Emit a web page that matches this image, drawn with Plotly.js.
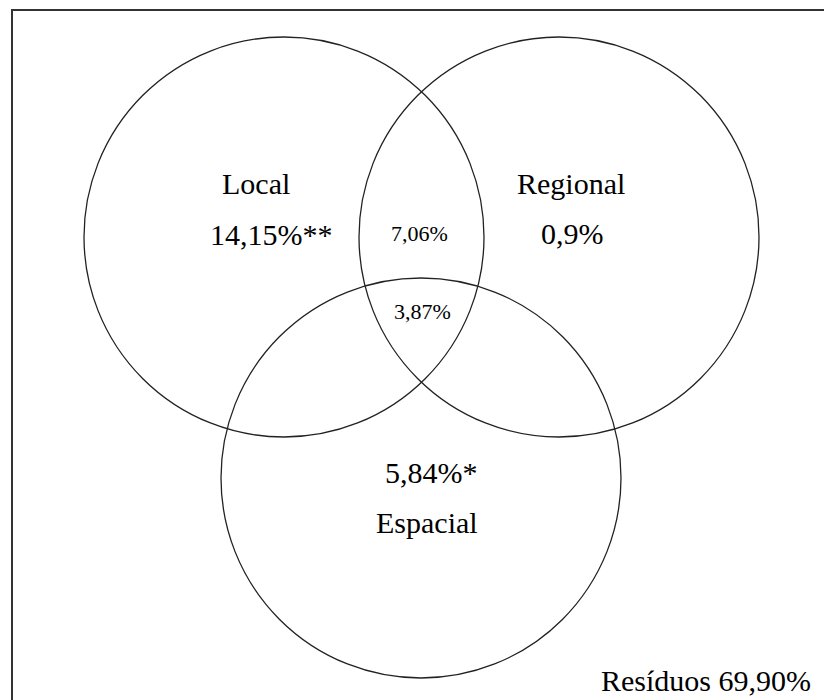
<!DOCTYPE html>
<html>
<head>
<meta charset="utf-8">
<script src="https://cdn.plot.ly/plotly-3.0.1.min.js"></script>
<style>html,body{margin:0;padding:0;background:#fff;}#chart{width:824px;height:700px;}</style>
</head>
<body>
<div id="chart"></div>
<script>
// Data
const setNames = ["Local", "Regional", "Espacial"];
const setValues = ["14,15%**", "0,9%", "5,84%*"];
const pairLabel = "7,06%";      // Local ∩ Regional
const tripleLabel = "3,87%";    // Local ∩ Regional ∩ Espacial
const residualLabel = "Resíduos 69,90%";

// Layout geometry (pixel-like coordinates on axes)
const circleCenters = [[284, 237], [559, 237], [421, 478]];
const circleRadius = 200;

const shapes = [
  {type: "rect", xref: "x", yref: "y", x0: 12, y0: 10, x1: 840, y1: 720,
   line: {color: "#333", width: 2}}
];
circleCenters.forEach(c => {
  shapes.push({type: "circle", xref: "x", yref: "y",
    x0: c[0] - circleRadius, x1: c[0] + circleRadius,
    y0: c[1] - circleRadius, y1: c[1] + circleRadius,
    line: {color: "#222", width: 1.3}});
});

const big = {family: "Liberation Serif, Times New Roman, serif", size: 30, color: "#000"};
const small = {family: "Liberation Serif, Times New Roman, serif", size: 22, color: "#000"};
function ann(text, x, y, font) {
  return {text: text, x: x, y: y, xref: "x", yref: "y", showarrow: false,
          xanchor: "center", yanchor: "middle", font: font};
}
const annotations = [
  ann(setNames[0], 256, 183, big),
  ann(setValues[0], 271, 234, big),
  ann(setNames[1], 571, 183, big),
  ann(setValues[1], 572, 233, big),
  ann(setValues[2], 431, 472, big),
  ann(setNames[2], 427, 522, big),
  ann(pairLabel, 419, 233, small),
  ann(tripleLabel, 422, 311, small),
  ann(residualLabel, 706, 680, big)
];

Plotly.newPlot("chart", [{x: [0], y: [0], mode: "markers", marker: {opacity: 0}, hoverinfo: "skip", showlegend: false}], {
  width: 824, height: 700,
  margin: {l: 0, r: 0, t: 0, b: 0},
  paper_bgcolor: "#fff", plot_bgcolor: "#fff",
  xaxis: {range: [0, 824], visible: false, fixedrange: true},
  yaxis: {range: [700, 0], visible: false, fixedrange: true},
  shapes: shapes,
  annotations: annotations,
  showlegend: false
}, {staticPlot: true});
</script>
</body>
</html>
